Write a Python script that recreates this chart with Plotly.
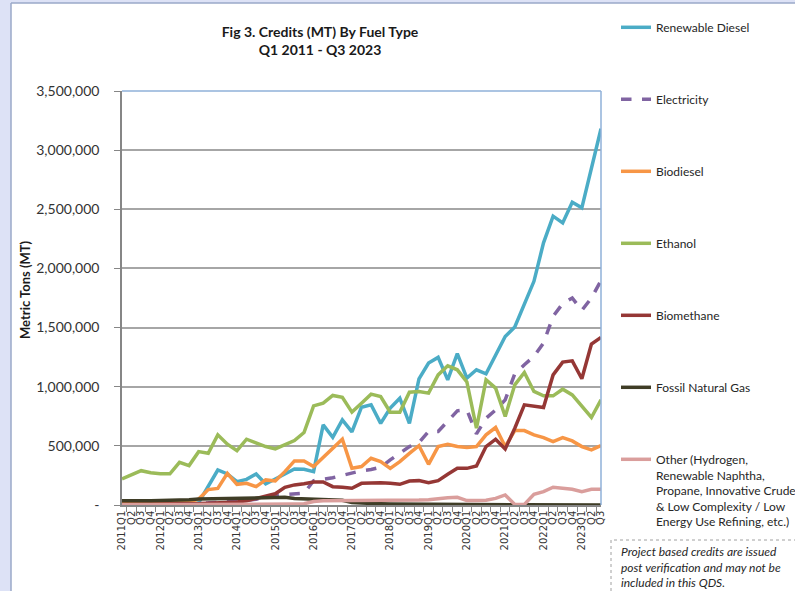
import plotly.graph_objects as go

# ---------------- data ----------------
quarters = [f"{y}Q{q}" for y in range(2011, 2024) for q in range(1, 5)][:51]
quarter_labels = [c if c.endswith("Q1") else c[-2:] for c in quarters]

renewable_diesel = [0, 0, 0, 0, 0, 0, 0, 0,
                    20000, 155000, 296000, 262000, 198000, 217000, 262000, 178000,
                    217000, 262000, 305000, 302000, 282000, 677000, 573000, 720000,
                    618000, 827000, 847000, 690000, 819000, 903000, 690000, 1067000,
                    1200000, 1248000, 1058000, 1279000, 1073000, 1143000, 1109000, 1270000,
                    1425000, 1505000, 1708000, 1891000, 2216000, 2442000, 2385000, 2560000,
                    2512000, 2851000, 3181000]
electricity = [3000, 4000, 5000, 6000, 7000, 8000, 10000, 12000,
               15000, 18000, 22000, 26000, 30000, 38000, 48000, 70000,
               82000, 88000, 93000, 99000, 205000, 215000, 230000, 250000,
               268000, 290000, 300000, 319000, 381000, 437000, 494000, 528000,
               621000, 621000, 706000, 796000, 804000, 601000, 734000, 804000,
               889000, 1109000, 1186000, 1256000, 1369000, 1595000, 1702000, 1750000,
               1646000, 1750000, 1897000]
biodiesel = [10000, 12000, 15000, 18000, 20000, 22000, 25000, 28000,
             50000, 130000, 140000, 268000, 175000, 183000, 155000, 212000,
             203000, 282000, 373000, 373000, 325000, 400000, 480000, 556000,
             310000, 325000, 395000, 367000, 310000, 367000, 437000, 502000,
             344000, 494000, 514000, 494000, 486000, 494000, 593000, 655000,
             494000, 629000, 629000, 593000, 570000, 536000, 570000, 542000,
             494000, 466000, 502000]
ethanol = [220000, 254000, 290000, 272000, 264000, 264000, 361000, 333000,
           451000, 437000, 593000, 514000, 460000, 556000, 528000, 494000,
           474000, 508000, 545000, 613000, 838000, 861000, 926000, 910000,
           785000, 861000, 937000, 917000, 785000, 785000, 954000, 960000,
           946000, 1100000, 1177000, 1143000, 1040000, 649000, 1058000, 988000,
           748000, 1016000, 1120000, 960000, 923000, 923000, 979000, 931000,
           838000, 740000, 889000]
biomethane = [5000, 5000, 6000, 6000, 7000, 8000, 9000, 10000,
              12000, 15000, 18000, 20000, 25000, 35000, 56000, 75000,
              95000, 150000, 170000, 180000, 195000, 195000, 155000, 150000,
              141000, 183000, 189000, 189000, 183000, 175000, 203000, 206000,
              189000, 206000, 260000, 310000, 310000, 330000, 494000, 556000,
              474000, 649000, 847000, 838000, 824000, 1100000, 1208000, 1219000,
              1067000, 1360000, 1417000]
fossil_natural_gas = [35000, 38000, 36000, 35000, 36000, 38000, 42000, 45000,
                      50000, 52000, 55000, 55000, 60000, 62000, 65000, 68000,
                      70000, 65000, 55000, 52000, 50000, 50000, 45000, 40000,
                      20000, 15000, 12000, 10000, 8000, 7000, 6000, 5000,
                      5000, 4000, 4000, 3000, 3000, 3000, 2000, 2000,
                      2000, 2000, 2000, 1000, 1000, 1000, 1000, 1000,
                      1000, 1000, 1000]
other = [2000, 2000, 2000, 2000, 2000, 2000, 2000, 2000,
         3000, 3000, 3000, 3000, 3000, 3000, 3000, 3000,
         4000, 5000, 8000, 10000, 30000, 35000, 35000, 35000,
         40000, 42000, 42000, 40000, 38000, 38000, 40000, 42000,
         45000, 55000, 62000, 65000, 37000, 37000, 40000, 56000,
         85000, 5000, 5000, 90000, 113000, 150000, 141000, 133000,
         113000, 133000, 133000]

y_tick_values = [0, 500000, 1000000, 1500000, 2000000, 2500000, 3000000, 3500000]
y_tick_labels = ["-", "500,000", "1,000,000", "1,500,000", "2,000,000",
                 "2,500,000", "3,000,000", "3,500,000"]

series = [
    ("Renewable Diesel", renewable_diesel, "#4BACC6", "solid"),
    ("Electricity", electricity, "#8064A2", "dash"),
    ("Biodiesel", biodiesel, "#F79646", "solid"),
    ("Ethanol", ethanol, "#9BBB59", "solid"),
    ("Biomethane", biomethane, "#953735", "solid"),
    ("Fossil Natural Gas", fossil_natural_gas, "#3F3D26", "solid"),
    ("Other (Hydrogen,<br>Renewable Naphtha,<br>Propane, Innovative Crude<br>& Low Complexity / Low<br>Energy Use Refining, etc.)",
     other, "#DA9E9C", "solid"),
]

W, H = 795, 591
L, R, T, B = 122, 601, 91, 505          # plot-area edges in pixels
def px(x): return (x - L) / (R - L)     # pixel -> paper x
def py(y): return (B - y) / (B - T)     # pixel -> paper y

fig = go.Figure()
for i, (name, vals, color, dash) in enumerate(series):
    fig.add_trace(go.Scatter(
        x=quarters, y=vals, mode="lines", name=name,
        legendgroup=f"g{i}",
        line=dict(color=color, width=3.5, dash=dash),
    ))

font_main = "Lato, Carlito, Calibri, sans-serif"

fig.update_layout(
    width=W, height=H, autosize=False,
    margin=dict(l=L, r=W - R, t=T, b=H - B, autoexpand=False),
    paper_bgcolor="white", plot_bgcolor="white",
    font=dict(family=font_main, color="#262626"),
    title=dict(text="<b>Fig 3. Credits (MT) By Fuel Type<br>Q1 2011 - Q3 2023</b>",
               xref="container", yref="container",
               x=320 / W, xanchor="center", y=1 - 37 / H, yanchor="middle",
               font=dict(size=14, family=font_main, color="#1a1a1a")),
    xaxis=dict(type="category", automargin=False,
               tickmode="array", tickvals=quarters, ticktext=quarter_labels,
               tickangle=-90, tickfont=dict(family="DejaVu Sans", size=10, color="#333"),
               ticks="outside", tickson="boundaries", ticklen=5, tickcolor="#868686",
               showline=True, linecolor="#868686", linewidth=1.5, showgrid=False),
    yaxis=dict(range=[0, 3500000], automargin=False,
               tickmode="array", tickvals=y_tick_values, ticktext=y_tick_labels,
               tickfont=dict(family=font_main, size=14, color="#333"),
               ticks="outside", ticklen=6, tickcolor="#868686", ticklabelstandoff=12,
               showline=True, linecolor="#868686", linewidth=1.5,
               showgrid=True, gridcolor="#A6A6A6", gridwidth=1.5, zeroline=False),
    legend=dict(x=px(616), xanchor="left", y=py(13), yanchor="top",
                font=dict(family=font_main, size=12, color="#262626"),
                tracegroupgap=53, valign="top", bgcolor="rgba(0,0,0,0)",
                itemwidth=30, maxheight=580),
    showlegend=True,
)

# Plot-area top / right border in light blue
fig.add_shape(type="line", xref="x domain", yref="y domain", x0=0, x1=1, y0=1, y1=1,
              line=dict(color="#8FB0D8", width=1.5), layer="above")
fig.add_shape(type="line", xref="x domain", yref="y domain", x0=1, x1=1, y0=0, y1=1,
              line=dict(color="#8FB0D8", width=1.5), layer="above")

# Outer frame strips
fig.add_shape(type="rect", xref="paper", yref="paper", x0=px(-5), x1=px(11), y0=py(600), y1=py(-5),
              fillcolor="#DDE2F6", line=dict(width=0), layer="below")
fig.add_shape(type="rect", xref="paper", yref="paper", x0=px(-5), x1=px(800), y0=py(3), y1=py(-5),
              fillcolor="#DDE2F6", line=dict(width=0), layer="below")
fig.add_shape(type="line", xref="paper", yref="paper", x0=px(11), x1=px(11), y0=py(600), y1=py(3),
              line=dict(color="#9AA8C8", width=1.5), layer="below")
fig.add_shape(type="line", xref="paper", yref="paper", x0=px(11), x1=px(800), y0=py(3), y1=py(3),
              line=dict(color="#9AA8C8", width=1.5), layer="below")

# Y axis title
fig.add_annotation(text="<b>Metric Tons (MT)</b>", textangle=-90, showarrow=False,
                   xref="paper", yref="paper", x=px(25), y=py(290),
                   xanchor="center", yanchor="middle",
                   font=dict(family=font_main, size=13, color="#1a1a1a"))

# Note box
fig.add_shape(type="rect", xref="paper", yref="paper", x0=px(611), x1=px(800),
              y0=py(600), y1=py(540),
              line=dict(color="#A0A0A0", width=1, dash="dot"), layer="below")
fig.add_annotation(text="<i>Project based credits are issued<br>post verification and may not be<br>included in this QDS.</i>",
                   showarrow=False, xref="paper", yref="paper",
                   x=px(619), y=py(542), xanchor="left", yanchor="top", align="left",
                   font=dict(family=font_main, size=12, color="#262626"))

fig.write_html("out.html", config={"displayModeBar": False},
               post_script="document.body.style.margin='0px';")
